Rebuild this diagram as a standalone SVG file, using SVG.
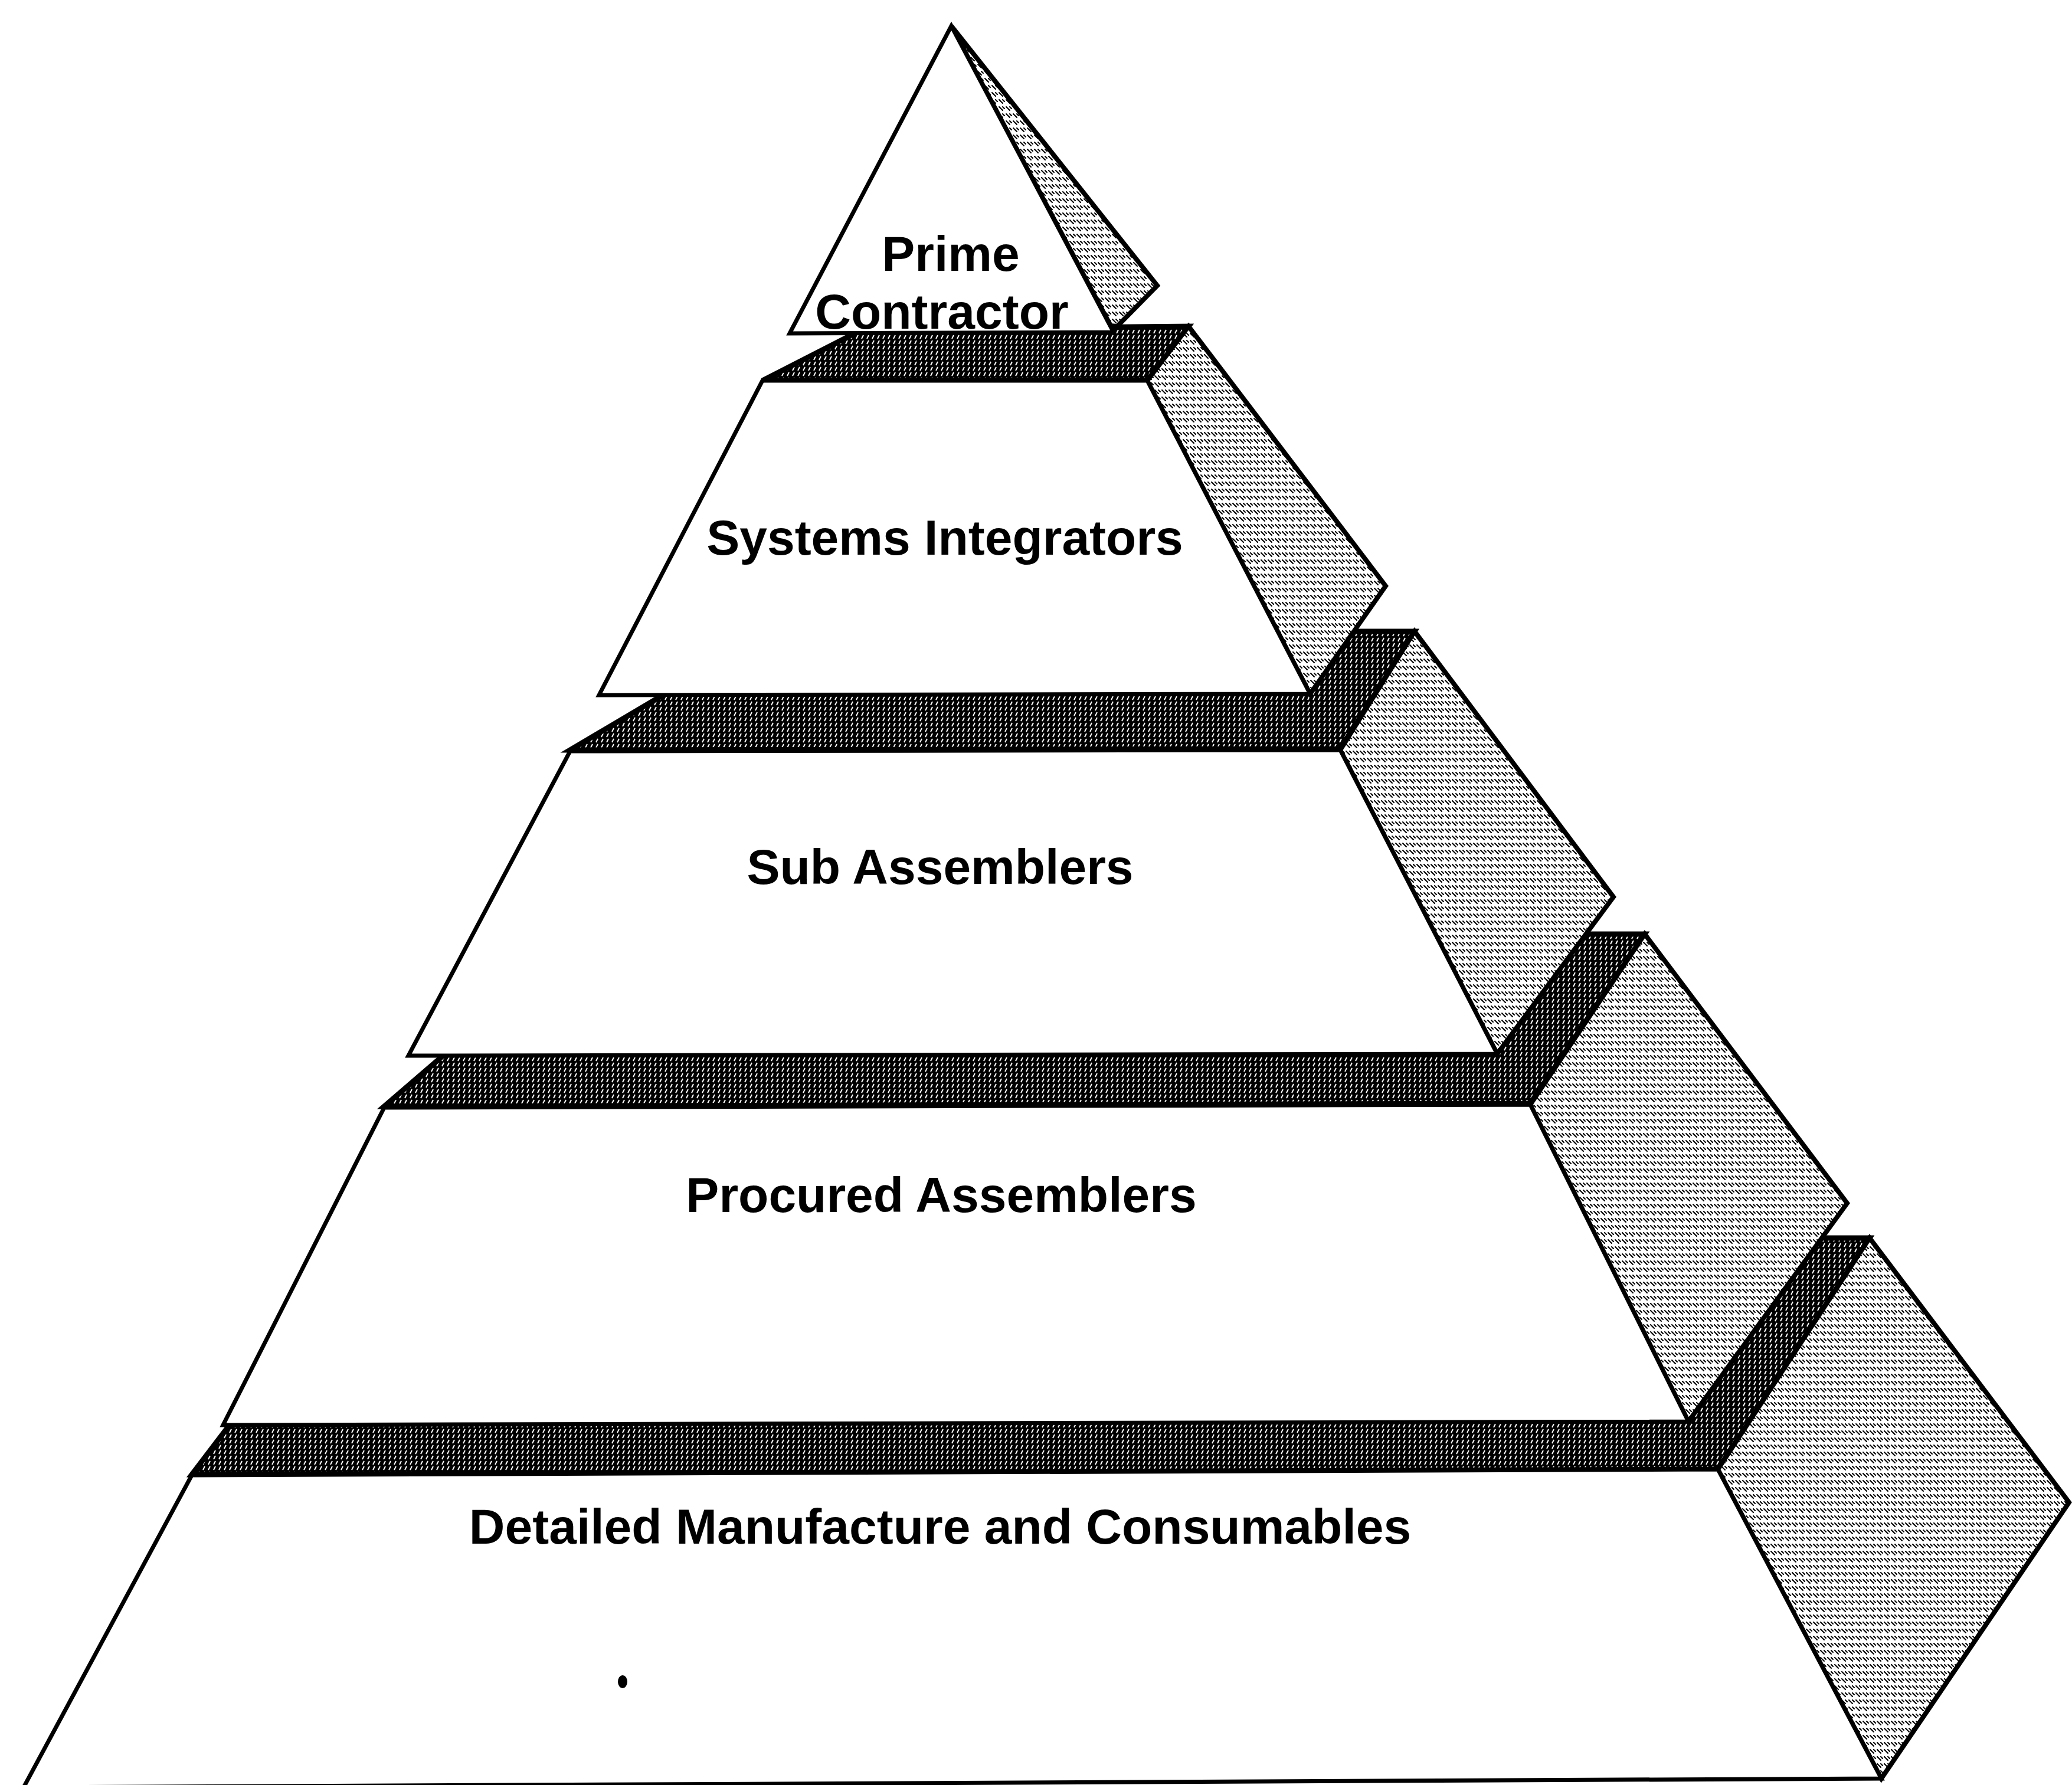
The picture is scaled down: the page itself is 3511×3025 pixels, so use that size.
<svg xmlns="http://www.w3.org/2000/svg" width="3511" height="3025" viewBox="0 0 3511 3025">
<defs>
<pattern id="hatch" width="12" height="12" patternUnits="userSpaceOnUse">
<rect width="12" height="12" fill="#fff"/>
<path d="M1,1 L7,7 M7,1 L10,4" stroke="#000" stroke-width="2" stroke-linecap="round"/>
</pattern>
<pattern id="dark" width="9" height="9" patternUnits="userSpaceOnUse">
<rect width="9" height="9" fill="#000"/>
<path d="M2,7 L5,1" stroke="#fff" stroke-width="2"/>
</pattern>
<style>
.top{fill:url(#dark);stroke:#000;stroke-width:9;stroke-linejoin:miter}
.side{fill:url(#hatch);stroke:#000;stroke-width:8;stroke-linejoin:miter}
.front{fill:#fff;stroke:#000;stroke-width:7;stroke-linejoin:miter}
.lbl{font-family:"Liberation Sans",Arial,sans-serif;font-weight:bold;font-size:84px;fill:#000;text-anchor:middle}
</style>
</defs>
<rect width="3511" height="3025" fill="#fff"/>

<g id="tier5">
<polygon class="top" points="325,2499 2911,2490 3168,2098 630,2098"/>
<polygon class="side" points="3168,2098 3506,2546 3188,3014 2911,2490"/>
<polygon class="front" points="325,2500 2911,2490 3188,3014 40,3029"/>
<text class="lbl" x="1593" y="2616">Detailed Manufacture and Consumables</text>
<ellipse cx="1055" cy="2850" rx="8" ry="11" fill="#000"/>
</g>

<g id="tier4">
<polygon class="top" points="651,1875 2593,1870 2787,1583 990,1583"/>
<polygon class="side" points="2787,1583 3130,2039 2861,2409 2593,1872"/>
<polygon class="front" points="651,1877 2593,1872 2861,2409 378,2415"/>
<text class="lbl" x="1595" y="2054">Procured Assemblers</text>
</g>

<g id="tier3">
<polygon class="top" points="966,1271 2271,1269 2397,1070 1306,1070"/>
<polygon class="side" points="2397,1070 2734,1520 2537,1786 2271,1271"/>
<polygon class="front" points="966,1273 2271,1271 2537,1786 692,1789"/>
<text class="lbl" x="1593" y="1498">Sub Assemblers</text>
</g>

<g id="tier2">
<polygon class="top" points="1292,645 1944,645 2014,553 1462,558"/>
<polygon class="side" points="2014,553 2348,993 2220,1176 1944,645"/>
<polygon class="front" points="1292,645 1944,645 2220,1176 1015,1178"/>
<text class="lbl" x="1601" y="940">Systems Integrators</text>
</g>

<g id="tier1">
<polygon class="side" points="1612,44 1961,484 1893,553 1882,552"/>
<polygon class="front" points="1612,44 1887,563 1338,565"/>
<text class="lbl" x="1611" y="459">Prime</text>
<text class="lbl" x="1596" y="557">Contractor</text>
</g>

<g id="connectors"/>
</svg>
